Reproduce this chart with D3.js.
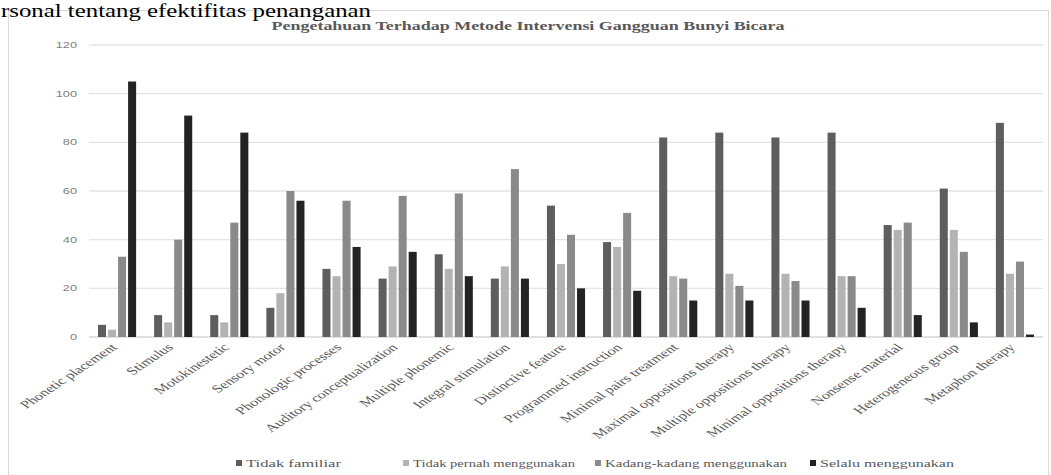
<!DOCTYPE html>
<html>
<head>
<meta charset="utf-8">
<script src="https://cdn.jsdelivr.net/npm/d3@7"></script>
<style>
  html, body { margin: 0; padding: 0; background: #fff; }
  svg { display: block; }
</style>
</head>
<body>
<svg id="chart" width="1051" height="475"></svg>
<script>
// Method categories along the x axis
const categories = [
  "Phonetic placement", "Stimulus", "Motokinestetic", "Sensory motor",
  "Phonologic processes", "Auditory conceptualization", "Multiple phonemic",
  "Integral stimulation", "Distinctive feature", "Programmed instruction",
  "Minimal pairs treatment", "Maximal oppositions therapy",
  "Multiple oppositions therapy", "Minimal oppositions therapy",
  "Nonsense material", "Heterogeneous group", "Metaphon therapy"
];

// Response series
const seriesNames = [
  "Tidak familiar", "Tidak pernah menggunakan",
  "Kadang-kadang menggunakan", "Selalu menggunakan"
];
const tidakFamiliar   = [5, 9, 9, 12, 28, 24, 34, 24, 54, 39, 82, 84, 82, 84, 46, 61, 88];
const tidakPernah     = [3, 6, 6, 18, 25, 29, 28, 29, 30, 37, 25, 26, 26, 25, 44, 44, 26];
const kadangKadang    = [33, 40, 47, 60, 56, 58, 59, 69, 42, 51, 24, 21, 23, 25, 47, 35, 31];
const selalu          = [105, 91, 84, 56, 37, 35, 25, 24, 20, 19, 15, 15, 15, 12, 9, 6, 1];
const seriesValues = [tidakFamiliar, tidakPernah, kadangKadang, selalu];

const yTicks = [0, 20, 40, 60, 80, 100, 120];

const colors = ["#5e5e5e", "#b3b3b3", "#8a8a8a", "#232323"];
const stretch = 1.5; // horizontal text stretch

const svg = d3.select("#chart");

// Chart frame
svg.append("rect")
  .attr("x", 8.5).attr("y", 10.5)
  .attr("width", 1040).attr("height", 480)
  .attr("fill", "#fff")
  .attr("stroke", "#d9d9d9")
  .attr("stroke-width", 1);

// Heading line above the chart box
svg.append("text")
  .attr("x", 1).attr("y", 17)
  .attr("font-family", "Liberation Serif, Times New Roman, serif")
  .attr("font-size", 18)
  .attr("fill", "#000")
  .attr("textLength", 370)
  .attr("lengthAdjust", "spacingAndGlyphs")
  .text("rsonal tentang efektifitas penanganan");

// Title
svg.append("g")
  .attr("transform", `translate(528,29.5) scale(${stretch},1)`)
  .append("text")
  .attr("text-anchor", "middle")
  .attr("font-family", "Liberation Serif, Times New Roman, serif")
  .attr("font-weight", "bold")
  .attr("font-size", 11.5)
  .attr("fill", "#595959")
  .attr("textLength", 513 / stretch)
  .attr("lengthAdjust", "spacingAndGlyphs")
  .text("Pengetahuan Terhadap Metode Intervensi Gangguan Bunyi Bicara");

// Scales
const x0 = d3.scaleBand().domain(categories).range([89, 1043]).paddingInner(0).paddingOuter(0);
const groupPad = 9;
const x1 = d3.scaleBand().domain(d3.range(4))
  .range([groupPad, x0.bandwidth() - groupPad]).paddingInner(0.2);
const y = d3.scaleLinear().domain([0, 120]).range([337, 45]);

// Gridlines
svg.append("g").selectAll("line")
  .data(yTicks)
  .join("line")
  .attr("x1", 89).attr("x2", 1043)
  .attr("y1", d => y(d)).attr("y2", d => y(d))
  .attr("stroke", d => d === 0 ? "#d6d6d6" : "#e4e4e4")
  .attr("stroke-width", 1.3);

// Y tick labels
svg.append("g").selectAll("g")
  .data(yTicks)
  .join("g")
  .attr("transform", d => `translate(77,${y(d) + 3}) scale(${stretch},1)`)
  .append("text")
  .attr("text-anchor", "end")
  .attr("font-family", "Liberation Sans, Arial, sans-serif")
  .attr("font-size", 8.5)
  .attr("fill", "#7f7f7f")
  .text(d => d);

// Bars
const groups = svg.append("g").selectAll("g")
  .data(categories)
  .join("g")
  .attr("transform", d => `translate(${x0(d)},0)`);

groups.selectAll("rect")
  .data((c, i) => seriesValues.map((vals, s) => ({ s, v: vals[i] })))
  .join("rect")
  .attr("x", d => x1(d.s))
  .attr("width", x1.bandwidth())
  .attr("y", d => y(d.v))
  .attr("height", d => y(0) - y(d.v))
  .attr("fill", d => colors[d.s]);

// Category labels (rotated)
svg.append("g").selectAll("g")
  .data(categories)
  .join("g")
  .attr("transform", d => `translate(${x0(d) + x0.bandwidth() / 2 + 1},348) scale(${stretch},1) rotate(-45)`)
  .append("text")
  .attr("text-anchor", "end")
  .attr("font-family", "Liberation Serif, Times New Roman, serif")
  .attr("font-size", 11)
  .attr("fill", "#595959")
  .text(d => d);

// Legend
const legendX = [236, 403, 595, 810];
const legendW = [95, 162, 182, 134];
const legend = svg.append("g").selectAll("g")
  .data(seriesNames)
  .join("g")
  .attr("transform", (d, i) => `translate(${legendX[i]},0)`);

legend.append("rect")
  .attr("x", 0).attr("y", 460)
  .attr("width", 6).attr("height", 6)
  .attr("fill", (d, i) => colors[i]);

legend.append("g")
  .attr("transform", `translate(10,467) scale(${stretch},1)`)
  .append("text")
  .attr("font-family", "Liberation Serif, Times New Roman, serif")
  .attr("font-size", 11)
  .attr("fill", "#595959")
  .attr("textLength", (d, i) => legendW[i] / stretch)
  .attr("lengthAdjust", "spacingAndGlyphs")
  .text(d => d);
</script>
</body>
</html>
